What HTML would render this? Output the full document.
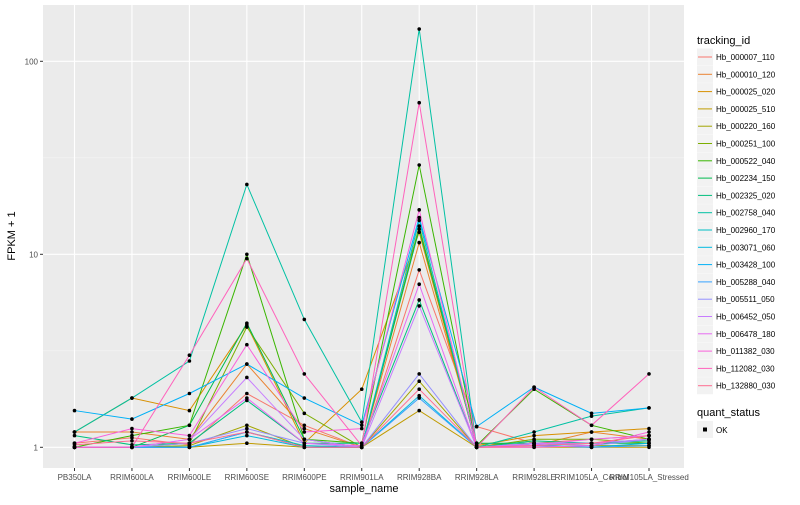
<!DOCTYPE html>
<html><head><meta charset="utf-8"><style>
body{margin:0;background:#fff;font-family:"Liberation Sans",sans-serif}
svg text{font-family:"Liberation Sans",sans-serif}
</style></head><body>
<svg id="chart" width="800" height="500" xmlns="http://www.w3.org/2000/svg">
<rect x="43" y="5" width="641" height="463" fill="#ebebeb"/>
<g id="grid"></g><g id="lines"></g><g id="pts"></g><g id="axes"></g><g id="legend"></g>
<text x="364" y="492" font-size="11" text-anchor="middle" fill="#000">sample_name</text>
<text x="15" y="236" font-size="11" text-anchor="middle" fill="#000" transform="rotate(-90 15 236)">FPKM + 1</text>
</svg>
<script>
const categories=["PB350LA","RRIM600LA","RRIM600LE","RRIM600SE","RRIM600PE","RRIM901LA","RRIM928BA","RRIM928LA","RRIM928LE","RRIM105LA_Control","RRIM105LA_Stressed"];
const seriesNames=["Hb_000007_110","Hb_000010_120","Hb_000025_020","Hb_000025_510","Hb_000220_160","Hb_000251_100","Hb_000522_040","Hb_002234_150","Hb_002325_020","Hb_002758_040","Hb_002960_170","Hb_003071_060","Hb_003428_100","Hb_005288_040","Hb_005511_050","Hb_006452_050","Hb_006478_180","Hb_011382_030","Hb_112082_030","Hb_132880_030"];
const seriesColors=["#F8766D","#EA8331","#D89000","#C09B00","#A3A500","#7CAE00","#39B600","#00BB4E","#00BF7D","#00C1A3","#00BFC4","#00BAE0","#00B0F6","#35A2FF","#9590FF","#C77CFF","#E76BF3","#FA62DB","#FF62BC","#FF6C91"];
const s0=[1.05,1.12,1.03,1.9,1.3,1.0,8.3,1.28,1.05,1.1,1.15];
const s1=[1.2,1.2,1.1,2.7,1.25,1.0,11.5,1.05,1.02,1.2,1.1];
const s2=[1.2,1.8,1.55,4.3,1.05,2.0,13,1.02,1.15,1.2,1.25];
const s3=[1.0,1.0,1.0,1.05,1.0,1.0,1.55,1.0,1.0,1.0,1.0];
const s4=[1.0,1.0,1.02,1.3,1.0,1.0,2.2,1.0,1.05,1.02,1.02];
const s5=[1.0,1.0,1.05,4.2,1.5,1.0,14,1.0,1.1,1.1,1.05];
const s6=[1.0,1.15,1.3,10,1.1,1.05,29,1.02,2.0,1.3,1.1];
const s7=[1.0,1.0,1.3,4.4,1.1,1.0,13.5,1.05,1.05,1.05,1.05];
const s8=[1.15,1.03,1.05,1.75,1.05,1.05,5.8,1.0,1.08,1.05,1.08];
const s9=[1.2,1.8,2.8,23,4.6,1.35,147,1.0,1.2,1.45,1.6];
const s10=[1.0,1.0,1.0,1.2,1.02,1.0,15,1.0,1.05,1.05,1.1];
const s11=[1.0,1.0,1.0,1.15,1.0,1.0,1.85,1.0,1.03,1.0,1.05];
const s12=[1.55,1.4,1.9,2.7,1.8,1.3,15.5,1.28,2.05,1.5,1.6];
const s13=[1.0,1.0,1.0,1.2,1.0,1.0,1.8,1.0,1.02,1.0,1.02];
const s14=[1.0,1.0,1.05,1.25,1.05,1.0,2.4,1.0,1.05,1.02,1.1];
const s15=[1.0,1.0,1.1,2.3,1.1,1.0,5.4,1.0,1.05,1.05,1.1];
const s16=[1.0,1.0,1.1,1.8,1.05,1.02,7,1.0,1.03,1.1,1.15];
const s17=[1.05,1.25,1.15,3.4,1.2,1.25,17,1.0,1.0,1.02,1.2];
const s18=[1.0,1.0,3.0,9.5,2.4,1.02,61,1.0,2.05,1.3,2.4];
const s19=[1.03,1.08,1.05,1.2,1.0,1.0,2.0,1.0,1.02,1.05,1.15];
const seriesValues=[s0,s1,s2,s3,s4,s5,s6,s7,s8,s9,s10,s11,s12,s13,s14,s15,s16,s17,s18,s19];
const yTicks=[1,10,100];
const yTickLabels=["1","10","100"];

const NS="http://www.w3.org/2000/svg";
function mk(tag,attrs,parent){const e=document.createElementNS(NS,tag);for(const k in attrs)e.setAttribute(k,attrs[k]);parent.appendChild(e);return e;}
function xs(i){return 74.5+i*57.45;}
function ys(v){return 447.3-193*Math.log10(v);}
const grid=document.getElementById('grid'),axes=document.getElementById('axes');
const lines=document.getElementById('lines'),pts=document.getElementById('pts'),leg=document.getElementById('legend');
// minor grid
[Math.sqrt(10),Math.sqrt(1000)].forEach(v=>{const l=mk('line',{x1:43,x2:684,y1:ys(v),y2:ys(v),stroke:'#f5f5f5','stroke-width':0.6},grid);

});
yTicks.forEach((v,i)=>{const l=mk('line',{x1:43,x2:684,y1:ys(v),y2:ys(v),stroke:'#fff','stroke-width':1.1},grid);


mk('line',{x1:40,x2:43,y1:ys(v),y2:ys(v),stroke:'#333'},axes);
const t=mk('text',{x:38,y:ys(v)+3,'font-size':8,'text-anchor':'end',fill:'#4d4d4d'},axes);t.textContent=yTickLabels[i];

});
categories.forEach((c,i)=>{const l=mk('line',{x1:xs(i),x2:xs(i),y1:5,y2:468,stroke:'#fff','stroke-width':1.1},grid);


mk('line',{x1:xs(i),x2:xs(i),y1:468,y2:471,stroke:'#333'},axes);
const t=mk('text',{x:xs(i),y:480,'font-size':8,'text-anchor':'middle',fill:'#4d4d4d'},axes);t.textContent=c;

});
seriesValues.forEach((vals,si)=>{
 const p=mk('polyline',{points:vals.map((v,i)=>xs(i)+','+ys(v)).join(' '),fill:'none',stroke:seriesColors[si],'stroke-width':1},lines);
 
 
 vals.forEach((v,i)=>{const c=mk('circle',{cx:xs(i),cy:ys(v),r:1.8,fill:'#000'},pts);
 
 });
});
// legend
let t=mk('text',{x:697,y:44,'font-size':11,fill:'#000'},leg);t.textContent='tracking_id';


seriesNames.forEach((n,i)=>{const y=57+i*17.3;
 const g=mk('g',{},leg);
 
 
 mk('rect',{x:697,y:y-8.5,width:16,height:17,fill:'#f2f2f2'},g);
 mk('line',{x1:698,x2:712,y1:y,y2:y,stroke:seriesColors[i],'stroke-width':1},g);
 const tt=mk('text',{x:716,y:y+3,'font-size':8,fill:'#000'},g);tt.textContent=n;});
t=mk('text',{x:697,y:416,'font-size':11,fill:'#000'},leg);t.textContent='quant_status';


const g2=mk('g',{},leg);


mk('rect',{x:697,y:421,width:16,height:17,fill:'#f2f2f2'},g2);
mk('rect',{x:703,y:427.5,width:4,height:4,fill:'#000'},g2);
t=mk('text',{x:716,y:433,'font-size':8,fill:'#000'},g2);t.textContent='OK';
</script>
</body></html>
